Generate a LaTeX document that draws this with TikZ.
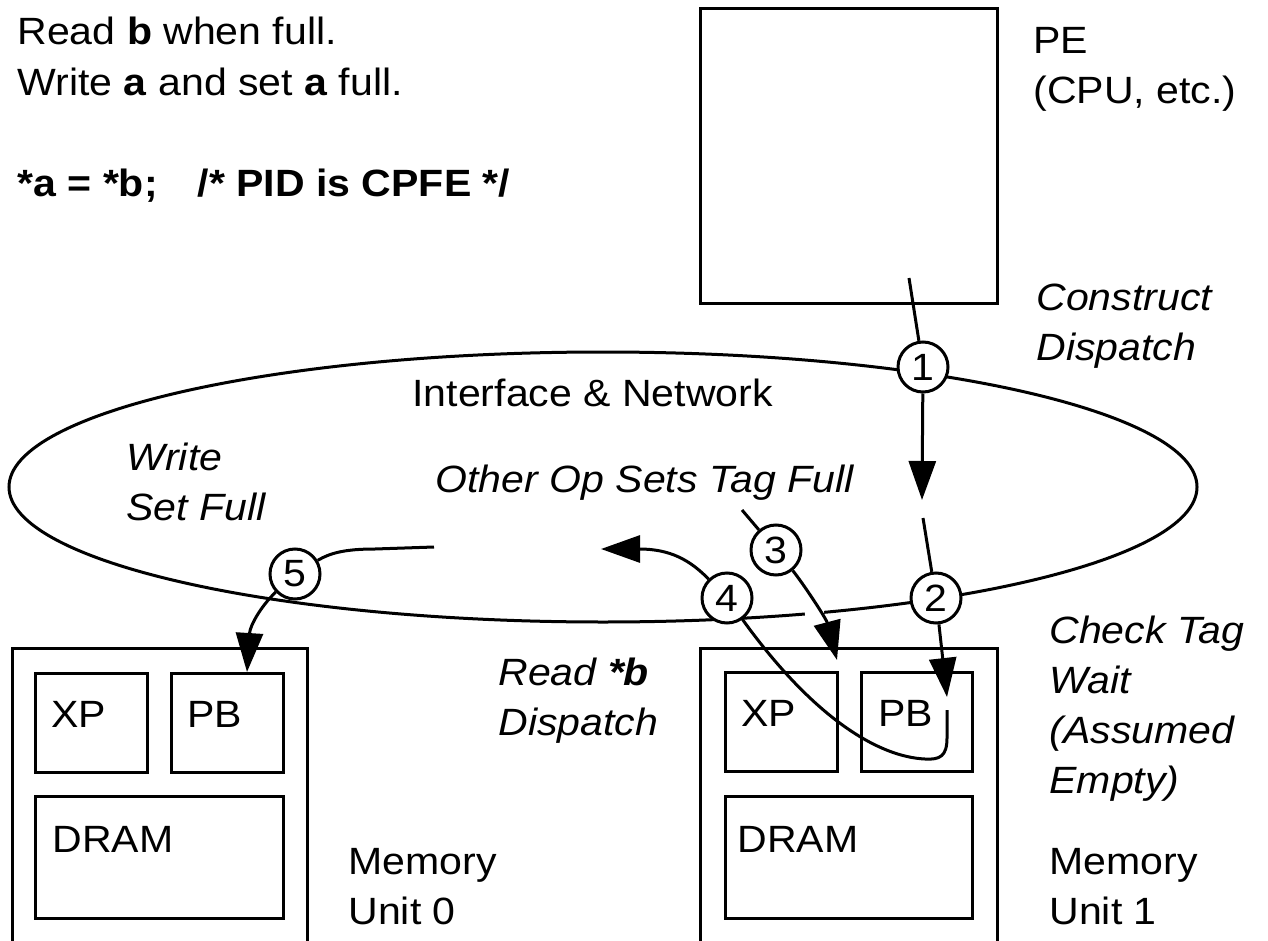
\documentclass[tikz,border=0pt]{standalone}
\usepackage{fontspec}
\setmainfont{Liberation Sans}[FakeStretch=1.08]
\usetikzlibrary{arrows.meta,fit}
\begin{document}
\begin{tikzpicture}[x=0.5pt,y=-0.5pt,line width=1.5pt,
  every node/.style={font=\fontsize{19pt}{25pt}\selectfont},
  txt/.style={anchor=base west, inner sep=0pt, align=left},
  box/.style={draw, rectangle, inner sep=0pt},
  num/.style={circle, draw, fill=white, minimum size=25pt, inner sep=0pt},
  arr/.style={-{Triangle[length=19.5pt,width=13.5pt]}}]
\useasboundingbox (0,0) rectangle (1268,941);
\clip (0,0) rectangle (1268,941);

% texts (multi-line nodes: coordinate is the baseline of the last line)
\node[txt] (l1) at (16,45) {Read \textbf{b} when full.};
\node[txt] (l2) at (16,96) {Write \textbf{a} and set \textbf{a} full.};
\node[txt] (l3) at (16,197) {\textbf{*a = *b;\hspace{20pt}/* PID is CPFE */}};
\node[txt] (pelab) at (1032,104) {PE\\(CPU, etc.)};
\node[txt] (cons) at (1035,360) {\itshape Construct\\\itshape Dispatch};
\node[txt] (inet) at (411,406) {Interface \& Network};
\node[txt] (wsf) at (125,520) {\itshape Write\\\itshape Set Full};
\node[txt] (other) at (434,492) {\itshape Other Op Sets Tag Full};
\node[txt] (readb) at (497,735) {\itshape Read \textbf{*b}\\\itshape Dispatch};
\node[txt] (check) at (1048,793) {\itshape Check Tag\\\itshape Wait\\\itshape (Assumed\\\itshape Empty)};
\node[txt] (mu1) at (1048,924) {Memory\\Unit 1};
\node[txt] (mu0) at (347,924) {Memory\\Unit 0};

% boxes
\node[box, fit={(700,9) (997,303)}] (pe) {};
\node[box, fit={(12,648) (307,990)}] (mem0) {};
\node[box, fit={(35,673) (147,772)}] (xp0) {};
\node[box, fit={(171,673) (283,772)}] (pb0) {};
\node[box, fit={(35,796) (283,918)}] (dram0) {};
\node[box, fit={(700,648) (997,990)}] (mem1) {};
\node[box, fit={(725,672) (837,771)}] (xp1) {};
\node[box, fit={(861,672) (972,771)}] (pb1) {};
\node[box, fit={(725,796) (972,918)}] (dram1) {};
\node[txt] (xp0t) at (50,727) {XP};
\node[txt] (pb0t) at (186,727) {PB};
\node[txt] (dram0t) at (51,852) {DRAM};
\node[txt] (xp1t) at (740,726) {XP};
\node[txt] (pb1t) at (877,726) {PB};
\node[txt] (dram1t) at (736,852) {DRAM};

% network ellipse
\draw (603,487) ellipse [x radius=594, y radius=135];
\draw[white, line width=3.5pt] (805,614.5) -- (824,612.5);

% step circles
\node[num] (c1) at (923,367) {1};
\node[num] (c2) at (936,598) {2};
\node[num] (c3) at (776,550) {3};
\node[num] (c4) at (727,598) {4};
\node[num] (c5) at (295,574) {5};

% connector end points
\coordinate (s1) at (909,278);
\coordinate (t1) at (922,500);
\coordinate (s2) at (923,518);
\coordinate (t2) at (947,697);
\coordinate (s3) at (742,510);
\coordinate (t3) at (837,660);
\coordinate (s4) at (947,710);
\coordinate (t4) at (601,549);
\coordinate (s5) at (434,547);
\coordinate (t5) at (247,672);

\draw (s1) -- (c1);
\draw[arr] (c1) -- (t1);
\draw (s2) -- (c2);
\draw[arr] (c2) -- (t2);
\draw (s3) -- (c3);
\draw[arr] (c3) .. controls (802,582) and (826,618) .. (t3);
\draw (s4) -- (947,738) .. controls (947,756) and (940,760) .. (925,759)
      .. controls (880,757) and (815,720) .. (c4);
\draw[arr] (c4) .. controls (690,560) and (670,549) .. (t4);
\draw (s5) -- (375,549) .. controls (345,549) and (330,553) .. (c5);
\draw[arr] (c5) .. controls (262,605) and (250,625) .. (t5);
\end{tikzpicture}
\end{document}
